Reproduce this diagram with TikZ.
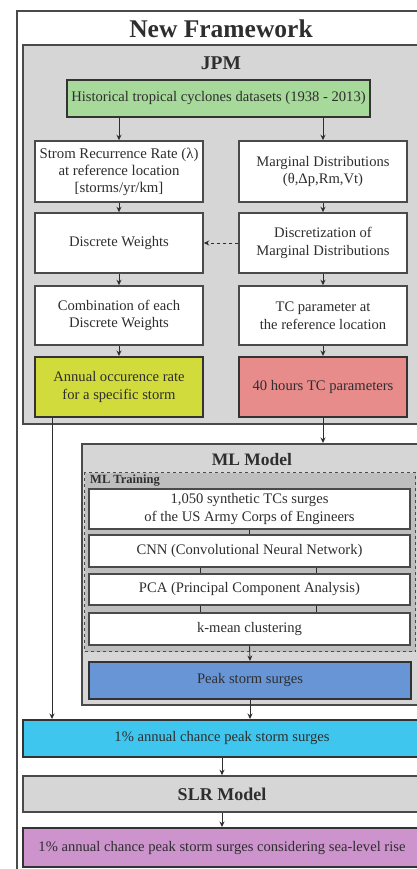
\documentclass[tikz,border=0pt]{standalone}
\usepackage{fontspec}
\setmainfont{Liberation Serif}
\usetikzlibrary{arrows.meta}
\definecolor{txt}{HTML}{2E2E2E}
\definecolor{frm}{HTML}{4A4A4A}
\definecolor{panel}{HTML}{D6D6D6}
\definecolor{train}{HTML}{BEBEBE}
\definecolor{gr}{HTML}{A6D99A}
\definecolor{yl}{HTML}{D2DB3C}
\definecolor{pk}{HTML}{E88B8B}
\definecolor{bl}{HTML}{6895D6}
\definecolor{cy}{HTML}{3FC6EE}
\definecolor{pu}{HTML}{CC93CC}
\tikzset{
  base/.style={draw=frm, text=txt, align=center, inner sep=0pt, font=\fontsize{14.6}{17.5}\selectfont},
  wbox/.style={base, fill=white, line width=1.5pt},
  cbox/.style={base, line width=2pt, draw=black!80},
  panelbox/.style={draw=frm, fill=panel, line width=1.6pt},
  arr/.style={draw=txt, line width=0.9pt, -{Stealth[length=5.5pt,width=5pt]}},
  tick/.style={draw=txt, line width=1pt},
  ttl/.style={text=txt, font=\bfseries\fontsize{#1}{#1}\selectfont},
}
\begin{document}
\begin{tikzpicture}[x=1pt,y=-1pt]
\useasboundingbox (0,0) rectangle (417,869);
\clip (0,0) rectangle (417,869);
% outer frame
\node[draw=frm, fill=white, line width=1.6pt, minimum width=408, minimum height=880, inner sep=0, anchor=north west] (outer) at (16,10) {};
\node[ttl=25.5] (title) at (221,29) {New Framework};
% JPM panel
\node[panelbox, minimum width=397, minimum height=379, inner sep=0, anchor=north west] (jpm) at (22,44) {};
\node[ttl=19.5] (jpmt) at (221,63) {JPM};
\node[cbox, fill=gr, minimum width=303, minimum height=37] (hist) at (218.5,98.5) {Historical tropical cyclones datasets (1938 - 2013)};
\node[wbox, minimum width=168, minimum height=61, font=\fontsize{14.8}{17}\selectfont] (srr) at (119,171.5) {Strom Recurrence Rate (λ)\\at reference location\\{}[storms/yr/km]};
\node[wbox, minimum width=168, minimum height=61] (marg) at (323,171.5) {Marginal Distributions\\(θ,Δp,Rm,Vt)};
\node[wbox, minimum width=168, minimum height=60] (dw) at (119,243) {Discrete Weights};
\node[wbox, minimum width=168, minimum height=60] (disc) at (323,243) {Discretization of\\Marginal Distributions};
\node[wbox, minimum width=168, minimum height=59] (comb) at (119,315.5) {Combination of each\\Discrete Weights};
\node[wbox, minimum width=168, minimum height=59] (tcp) at (323,315.5) {TC parameter at\\the reference location};
\node[cbox, fill=yl, minimum width=168, minimum height=60] (ann) at (119,387) {Annual occurence rate\\for a specific storm};
\node[cbox, fill=pk, minimum width=168, minimum height=60] (forty) at (323,387) {40 hours TC parameters};
\draw[arr] (hist.south -| srr.north) -- (srr.north);
\draw[arr] (hist.south -| marg.north) -- (marg.north);
\draw[arr] (srr) -- (dw);
\draw[arr] (marg) -- (disc);
\draw[arr, dashed] (disc) -- (dw);
\draw[arr] (dw) -- (comb);
\draw[arr] (disc) -- (tcp);
\draw[arr] (comb) -- (ann);
\draw[arr] (tcp) -- (forty);
% ML model
\node[panelbox, minimum width=342, minimum height=261, inner sep=0, anchor=north west] (ml) at (81,443) {};
\draw[arr] (forty.south) -- (forty.south |- ml.north);
\node[ttl=17.5] (mlt) at (252,460) {ML Model};
\node[draw=frm, fill=train, dashed, line width=1.3pt, minimum width=331, minimum height=179, inner sep=0, anchor=north west] (tr) at (84,472) {};
\node[text=txt, font=\bfseries\fontsize{12.5}{12.5}\selectfont, anchor=west, inner sep=0] (trt) at (90,482) {\underline{ML Training}};
\node[wbox, minimum width=321, minimum height=40] (syn) at (249.5,509) {1,050 synthetic TCs surges\\of the US Army Corps of Engineers};
\node[wbox, minimum width=321, minimum height=32] (cnn) at (249.5,551) {CNN (Convolutional Neural Network)};
\node[wbox, minimum width=321, minimum height=31] (pca) at (249.5,589.5) {PCA (Principal Component Analysis)};
\node[wbox, minimum width=321, minimum height=32] (km) at (249.5,629) {k-mean clustering};
\coordinate (ta) at (200,0);
\coordinate (tb) at (316,0);
\draw[tick] (syn.south) -- (cnn.north);
\draw[tick] (cnn.south -| ta) -- (pca.north -| ta);
\draw[tick] (cnn.south -| tb) -- (pca.north -| tb);
\draw[tick] (pca.south -| ta) -- (km.north -| ta);
\draw[tick] (pca.south -| tb) -- (km.north -| tb);
\node[cbox, fill=bl, minimum width=322, minimum height=37] (peak) at (250,680.5) {Peak storm surges};
\draw[arr] (km.south) -- (peak.north);
% bottom chain
\node[cbox, fill=cy, minimum width=398, minimum height=37] (one) at (222,738.5) {1\% annual chance peak storm surges};
\node[base, fill=panel, line width=1.6pt, minimum width=398, minimum height=36, font=\bfseries\fontsize{18}{18}\selectfont] (slr) at (222,794) {SLR Model};
\node[cbox, fill=pu, minimum width=398, minimum height=39] (purp) at (222,847.5) {1\% annual chance peak storm surges considering sea-level rise};
\coordinate (lx) at (52,0);
\draw[arr] (ann.south -| lx) -- (one.north -| lx);
\draw[arr] (peak.south) -- (peak.south |- one.north);
\draw[arr] (one) -- (slr);
\draw[arr] (slr) -- (purp);
\end{tikzpicture}
\end{document}
